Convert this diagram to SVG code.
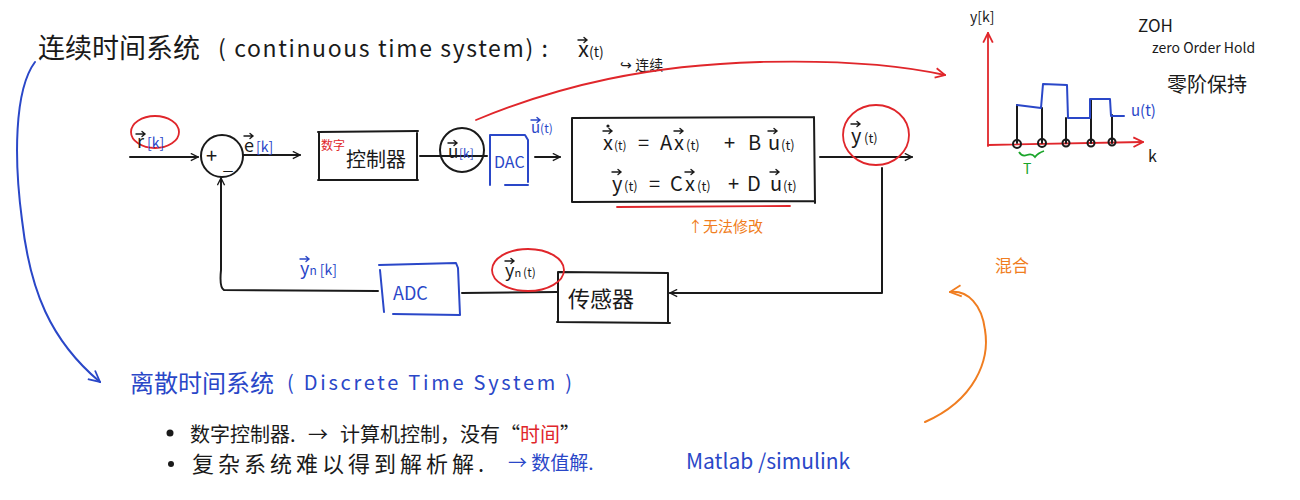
<svg xmlns="http://www.w3.org/2000/svg" width="1300" height="500" viewBox="0 0 1300 500">
<defs>
<style>
.t{font-family:"Noto Sans CJK SC","Liberation Sans",sans-serif;}
.k{fill:#1a1a1a}
.b{fill:#2a47c8}
.r{fill:#e0262b}
.o{fill:#f07d20}
.g{fill:#1aa52a}
.lk{stroke:#1a1a1a;stroke-width:2;fill:none;stroke-linecap:round;stroke-linejoin:round}
.lb{stroke:#2a47c8;stroke-width:2;fill:none;stroke-linecap:round;stroke-linejoin:round}
.lr{stroke:#e0262b;stroke-width:1.8;fill:none;stroke-linecap:round;stroke-linejoin:round}
.lo{stroke:#f07d20;stroke-width:2;fill:none;stroke-linecap:round}
.lg{stroke:#1aa52a;stroke-width:1.8;fill:none}
.vk{stroke:#1a1a1a;stroke-width:1.4;fill:none;stroke-linecap:round}
.vb{stroke:#2a47c8;stroke-width:1.4;fill:none;stroke-linecap:round}
</style>
<path id="vec" d="M0,0 L9,0 M6,-2.5 L9,0 L6,2.5"/>
<marker id="ak" viewBox="0 0 10 10" refX="9" refY="5" markerWidth="9" markerHeight="9" markerUnits="userSpaceOnUse" orient="auto"><path d="M1,1 L9,5 L1,9" fill="none" stroke="#1a1a1a" stroke-width="1.5"/></marker>
<marker id="ar" viewBox="0 0 10 10" refX="9" refY="5" markerWidth="12" markerHeight="12" markerUnits="userSpaceOnUse" orient="auto"><path d="M1,1 L9,5 L1,9" fill="none" stroke="#e0262b" stroke-width="1.5"/></marker>
<marker id="ab" viewBox="0 0 10 10" refX="9" refY="5" markerWidth="14" markerHeight="14" markerUnits="userSpaceOnUse" orient="auto"><path d="M1,1 L9,5 L1,9" fill="none" stroke="#2a47c8" stroke-width="1.3"/></marker>
<marker id="ao" viewBox="0 0 10 10" refX="9" refY="5" markerWidth="14" markerHeight="14" markerUnits="userSpaceOnUse" orient="auto"><path d="M1,1 L9,5 L1,9" fill="none" stroke="#f07d20" stroke-width="1.3"/></marker>
</defs>
<rect width="1300" height="500" fill="#ffffff"/>

<g id="title">
<text class="t k" x="38" y="58" font-size="27">连续时间系统</text>
<text class="t k" x="218" y="57" font-size="23" textLength="330">( continuous time  system) :</text>
<text class="t k" x="578" y="57" font-size="22">x<tspan font-size="14">(t)</tspan></text>
<use href="#vec" class="vk" x="578" y="40"/>
<text class="t k" x="620" y="70" font-size="14">↪ 连续</text>
</g>

<g id="connectors">
<path class="lb" d="M35,62 C14,90 14,160 22,220 C30,290 50,340 100,382" marker-end="url(#ab)"/>
<path class="lk" d="M130,157 L198,157" marker-end="url(#ak)"/>
<path class="lk" d="M243,155 L300,155" marker-end="url(#ak)"/>
<path class="lk" d="M420,156 L487,156"/>
<path class="lk" d="M535,157 L560,157" marker-end="url(#ak)"/>
<path class="lk" d="M820,157 L912,157" marker-end="url(#ak)"/>
<path class="lk" d="M882,168 L882,293 L670,293" marker-end="url(#ak)"/>
<path class="lk" d="M557,292 L462,293"/>
<path class="lk" d="M378,291 L224,290 C220,288 220,280 221,270 L221,178" marker-end="url(#ak)"/>
<path class="lr" d="M476,120 C560,85 650,65 760,62 C840,60 900,65 945,75" marker-end="url(#ar)"/>
<path class="lr" d="M617,207 L790,206"/>
<path class="lo" d="M925,422 C975,400 990,360 985,330 C982,305 968,290 950,292" marker-end="url(#ao)"/>
</g>

<g id="r-label">
<ellipse class="lr" cx="155" cy="132" rx="24" ry="16"/>
<text class="t k" x="137" y="148" font-size="18">r</text>
<use href="#vec" class="vk" x="136" y="134"/>
<text class="t b" x="147" y="148" font-size="14">[k]</text>
</g>

<g id="sum">
<circle class="lk" cx="222" cy="156" r="21"/>
<text class="t k" x="206" y="163" font-size="20">+</text>
<text class="t k" x="223" y="170" font-size="18">_</text>
</g>

<g id="e-label">
<text class="t k" x="244" y="152" font-size="18">e</text>
<use href="#vec" class="vk" x="244" y="136"/>
<text class="t b" x="256" y="152" font-size="14">[k]</text>
</g>

<g id="controller">
<path class="lk" d="M318,132 L418,131 M318,180 L418,180 M319,132 L319,180 M417,131 L417,180"/>
<text class="t k" x="346" y="167" font-size="20">控制器</text>
<text class="t r" x="321" y="150" font-size="12">数字</text>
</g>

<g id="u-k">
<circle class="lk" cx="462" cy="150" r="22"/>
<text class="t k" x="448" y="158" font-size="17">u</text>
<use href="#vec" class="vk" x="448" y="143"/>
<text class="t b" x="459" y="158" font-size="12">[k]</text>
</g>

<g id="dac">
<path class="lb" d="M490,135 L490,185 M490,135 L525,135 L528,140 L528,182 M505,185 L528,185"/>
<text class="t b" x="494" y="168" font-size="16">DAC</text>
</g>

<g id="u-t">
<text class="t b" x="531" y="133" font-size="15">u<tspan font-size="12">(t)</tspan></text>
<use href="#vec" class="vb" x="531" y="120"/>
</g>

<g id="plant">
<path class="lk" d="M572,118 L814,117 M572,118 L572,202 M572,202 L815,201 M814,117 L815,203"/>
<g class="t k" font-size="20">
<text x="603" y="150">x</text><text x="614" y="150" font-size="12">(t)</text>
<text x="638" y="150">=</text><text x="660" y="150">A</text>
<text x="674" y="150">x</text><text x="686" y="150" font-size="13">(t)</text>
<text x="724" y="150">+</text><text x="748" y="150">B</text>
<text x="768" y="150">u</text><text x="781" y="150" font-size="13">(t)</text>
<text x="612" y="191">y</text><text x="624" y="191" font-size="13">(t)</text>
<text x="649" y="191">=</text><text x="670" y="191">C</text>
<text x="685" y="191">x</text><text x="697" y="191" font-size="13">(t)</text>
<text x="728" y="191">+</text><text x="747" y="191">D</text>
<text x="770" y="191">u</text><text x="783" y="191" font-size="13">(t)</text>
</g>
<g class="vk">
<use href="#vec" x="603" y="131"/><use href="#vec" x="674" y="131"/><use href="#vec" x="768" y="131"/>
<use href="#vec" x="612" y="172"/><use href="#vec" x="685" y="172"/><use href="#vec" x="770" y="172"/>
</g>
<circle cx="608" cy="126" r="1.6" fill="#1a1a1a"/>
</g>

<g id="note-fixed">
<text class="t o" x="688" y="232" font-size="15">↑无法修改</text>
</g>

<g id="y-t">
<ellipse class="lr" cx="876" cy="135" rx="33" ry="30"/>
<text class="t k" x="851" y="143" font-size="20">y</text>
<use href="#vec" class="vk" x="851" y="124"/>
<text class="t k" x="864" y="143" font-size="13">(t)</text>
</g>

<g id="sensor">
<path class="lk" d="M558,272 L668,273 M558,272 L558,322 M557,322 L670,323 M668,273 L668,323"/>
<text class="t k" x="568" y="307" font-size="22">传感器</text>
</g>

<g id="yn-t">
<ellipse class="lr" cx="528" cy="270" rx="36" ry="21"/>
<text class="t k" x="505" y="277" font-size="18">y<tspan font-size="11">n</tspan><tspan font-size="12" dx="2">(t)</tspan></text>
<use href="#vec" class="vk" x="505" y="261"/>
</g>

<g id="adc">
<path class="lb" d="M379,265 L456,263 L458,268 L460,315 L393,314 M380,270 L384,312"/>
<text class="t b" x="393" y="300" font-size="18">ADC</text>
</g>

<g id="yn-k">
<text class="t b" x="300" y="275" font-size="18">y<tspan font-size="12">n</tspan><tspan font-size="14" dx="3">[k]</tspan></text>
<use href="#vec" class="vb" x="300" y="259"/>
</g>

<g id="zoh-plot">
<path class="lr" d="M988,146 L988,33" marker-end="url(#ar)"/>
<path class="lr" d="M988,145 L1143,142" marker-end="url(#ar)"/>
<text class="t k" x="970" y="22" font-size="14">y[k]</text>
<text class="t k" x="1148" y="162" font-size="16">k</text>
<path class="lk" d="M1017,143 L1017,105 M1042,143 L1042,108 M1066,143 L1066,118 M1091,143 L1091,100 M1112,143 L1112,115"/>
<g class="lk">
<circle cx="1017" cy="144" r="4"/><circle cx="1042" cy="143" r="4"/><circle cx="1066" cy="143" r="3.5"/><circle cx="1091" cy="143" r="3.5"/><circle cx="1112" cy="142" r="3.5"/>
</g>
<path class="lb" stroke-width="2.5" d="M1017,105 L1041,108 L1043,84 L1067,85 L1068,118 L1090,118 L1090,99 L1110,99 L1111,116 L1124,116"/>
<text class="t b" x="1131" y="116" font-size="15">u(t)</text>
<path class="lg" d="M1019,152 Q1022,157 1027,155 Q1032,153 1035,157 Q1038,153 1044,151"/>
<text class="t g" x="1023" y="174" font-size="14">T</text>
</g>

<g id="zoh-text">
<text class="t k" x="1138" y="32" font-size="17">ZOH</text>
<text class="t k" x="1152" y="53" font-size="14">zero Order Hold</text>
<text class="t k" x="1167" y="92" font-size="20">零阶保持</text>
</g>

<g id="mix">
<text class="t o" x="995" y="272" font-size="17">混合</text>
</g>

<g id="discrete">
<text class="t b" x="130" y="392" font-size="24">离散时间系统</text>
<text class="t b" x="287" y="390" font-size="20" textLength="285">( Discrete Time  System )</text>
<circle cx="170" cy="433" r="3.5" fill="#1a1a1a"/>
<text class="t k" x="190" y="442" font-size="20">数字控制器. <tspan dx="8">→</tspan><tspan dx="12">计算机控制，没有“</tspan><tspan class="r">时间</tspan>”</text>
<circle cx="171" cy="464" r="3" fill="#1a1a1a"/>
<text class="t k" x="192" y="472" font-size="22" letter-spacing="4">复杂系统难以得到解析解.</text>
<text class="t b" x="508" y="470" font-size="19">→ 数值解.</text>
<text class="t b" x="686" y="469" font-size="21">Matlab /simulink</text>
</g>
</svg>
